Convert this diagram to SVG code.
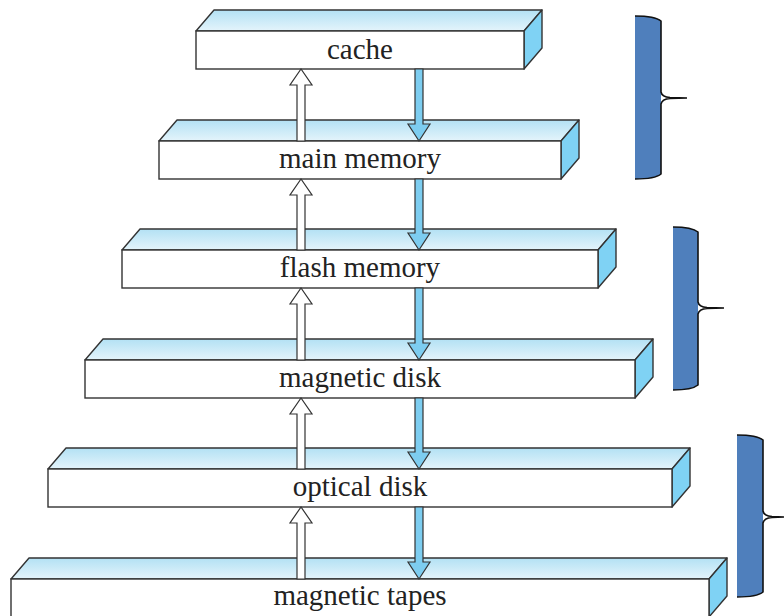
<svg xmlns="http://www.w3.org/2000/svg" width="784" height="616" viewBox="0 0 784 616">
<defs>
<linearGradient id="topg" x1="0" y1="0" x2="0" y2="1">
<stop offset="0" stop-color="#b3e1f4"/>
<stop offset="1" stop-color="#e4f4fb"/>
</linearGradient>
<style>
.top{fill:url(#topg);stroke:#333;stroke-width:1.4;stroke-linejoin:round}
.side{fill:#7fd2f4;stroke:#333;stroke-width:1.4;stroke-linejoin:round}
.front{fill:#fff;stroke:#333;stroke-width:1.4}
.lbl{font-family:"Liberation Serif","Times New Roman",serif;font-size:29px;fill:#222;text-anchor:middle}
.up{fill:#fff;stroke:#333;stroke-width:1.2;stroke-linejoin:miter}
.down{fill:#7dcdf0;stroke:#333;stroke-width:1.2;stroke-linejoin:miter}
.bfill{fill:#4f7fbc;stroke:none}
.bline{fill:none;stroke:#111;stroke-width:1.6}
</style>
</defs>
<rect width="784" height="616" fill="#fff"/>
<g id="cache">
<polygon class="top" points="196,31 214,10 542,10 524,31"/>
<polygon class="side" points="524,31 542,10 542,48 524,69"/>
<rect class="front" x="196" y="31" width="328" height="38"/>
<text class="lbl" x="360" y="59">cache</text>
</g>
<g id="main-memory">
<polygon class="top" points="159,141 177,120 579,120 561,141"/>
<polygon class="side" points="561,141 579,120 579,158 561,179"/>
<rect class="front" x="159" y="141" width="402" height="38"/>
<text class="lbl" x="360" y="168">main memory</text>
</g>
<g id="flash-memory">
<polygon class="top" points="122,250 140,229 616,229 598,250"/>
<polygon class="side" points="598,250 616,229 616,267 598,288"/>
<rect class="front" x="122" y="250" width="476" height="38"/>
<text class="lbl" x="360" y="277">flash memory</text>
</g>
<g id="magnetic-disk">
<polygon class="top" points="85,360 103,339 653,339 635,360"/>
<polygon class="side" points="635,360 653,339 653,377 635,398"/>
<rect class="front" x="85" y="360" width="550" height="38"/>
<text class="lbl" x="360" y="387">magnetic disk</text>
</g>
<g id="optical-disk">
<polygon class="top" points="48,469 66,448 690,448 672,469"/>
<polygon class="side" points="672,469 690,448 690,486 672,507"/>
<rect class="front" x="48" y="469" width="624" height="38"/>
<text class="lbl" x="360" y="496">optical disk</text>
</g>
<g id="magnetic-tapes">
<polygon class="top" points="11,579 29,558 727,558 709,579"/>
<polygon class="side" points="709,579 727,558 727,596 709,617"/>
<rect class="front" x="11" y="579" width="698" height="38"/>
<text class="lbl" x="360" y="605">magnetic tapes</text>
</g>
<g id="connectors">
<polygon class="up" points="297,141 297,85 290,85 301,69 312,85 305,85 305,141"/>
<polygon class="down" points="415,69 423,69 423,124 430,124 419,141 408,124 415,124"/>
<polygon class="up" points="297,250 297,195 290,195 301,179 312,195 305,195 305,250"/>
<polygon class="down" points="415,179 423,179 423,233 430,233 419,250 408,233 415,233"/>
<polygon class="up" points="297,360 297,304 290,304 301,288 312,304 305,304 305,360"/>
<polygon class="down" points="415,288 423,288 423,343 430,343 419,360 408,343 415,343"/>
<polygon class="up" points="297,469 297,414 290,414 301,398 312,414 305,414 305,469"/>
<polygon class="down" points="415,398 423,398 423,452 430,452 419,469 408,452 415,452"/>
<polygon class="up" points="297,579 297,523 290,523 301,507 312,523 305,523 305,579"/>
<polygon class="down" points="415,507 423,507 423,562 430,562 419,579 408,562 415,562"/>
</g>
<g id="brace-1">
<path class="bfill" d="M635,16 Q655,16 661,21 L661,174 Q655,179 635,179 Z"/>
<path class="bline" d="M635,16 Q655,16 661,21 L661,92 Q662,97 670,97.5 L687,98 L670,98.5 Q662,99 661,104 L661,174 Q655,179 635,179"/>
</g>
<g id="brace-2">
<path class="bfill" d="M673,227 Q692,227 698,232 L698,385 Q692,390 673,390 Z"/>
<path class="bline" d="M673,227 Q692,227 698,232 L698,302 Q699,307 707,307.5 L724,308 L707,308.5 Q699,309 698,314 L698,385 Q692,390 673,390"/>
</g>
<g id="brace-3">
<path class="bfill" d="M737,435 Q757,435 763,440 L763,592 Q757,597 737,597 Z"/>
<path class="bline" d="M737,435 Q757,435 763,440 L763,511 Q764,516 772,516.5 L786,517 L772,517.5 Q764,518 763,523 L763,592 Q757,597 737,597"/>
</g>
</svg>
